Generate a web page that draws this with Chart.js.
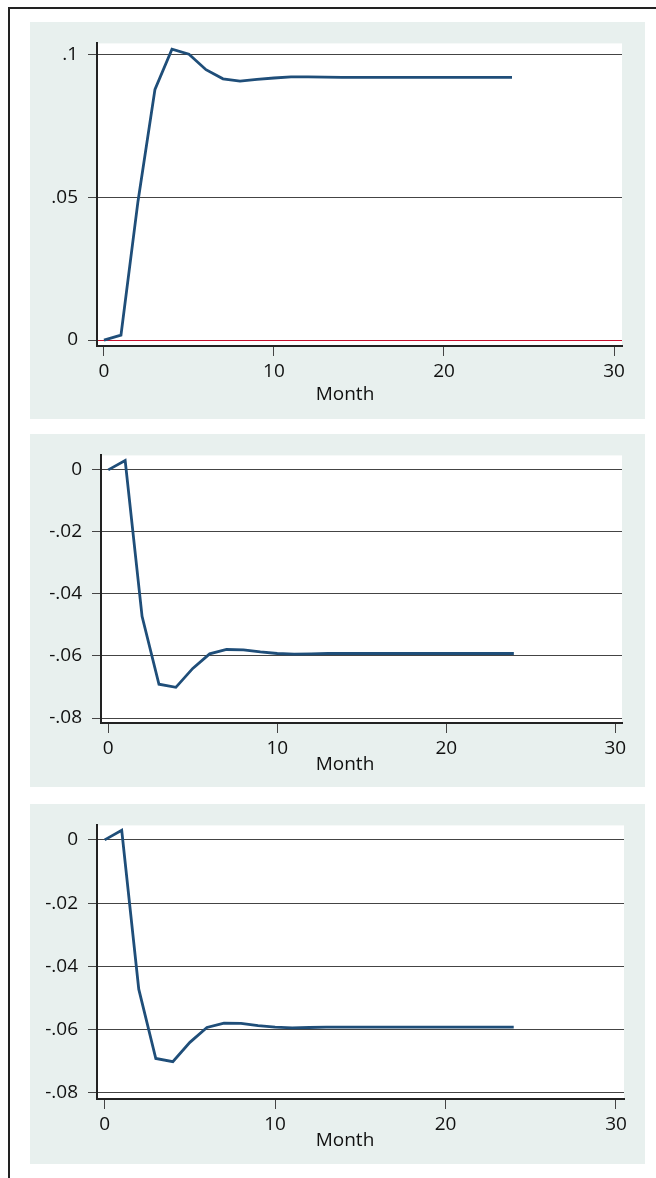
<!DOCTYPE html>
<html>
<head>
<meta charset="utf-8">
<script src="https://cdn.jsdelivr.net/npm/chart.js@4/dist/chart.umd.min.js"></script>
<style>
  html, body { margin: 0; padding: 0; background: #ffffff; }
  body { position: relative; width: 656px; height: 1178px; overflow: hidden; }
  #frame { position: absolute; left: 8px; top: 7px; width: 660px; height: 1180px;
           border-top: 2px solid #222; border-left: 2px solid #222; }
  .panel { position: absolute; left: 30px; width: 615px; background: #e8f0ee; }
  .panel canvas { position: absolute; left: 0; top: 0; }
</style>
</head>
<body>
<div id="frame"></div>
<div class="panel" style="top:22px;height:397px"><canvas id="c1" width="615" height="397"></canvas></div>
<div class="panel" style="top:434px;height:353px"><canvas id="c2" width="615" height="353"></canvas></div>
<div class="panel" style="top:804px;height:360px"><canvas id="c3" width="615" height="360"></canvas></div>
<script>
// Months after the shock
const months = [0, 1, 2, 3, 4, 5, 6, 7, 8, 9, 10, 11, 12, 13, 14, 15, 16, 17, 18, 19, 20, 21, 22, 23, 24];

// Impulse responses, one per panel
const response1 = [0, 0.0017, 0.0485, 0.0877, 0.1018, 0.1000, 0.0946, 0.0914, 0.0906, 0.0912, 0.0917, 0.0921, 0.0921, 0.0920, 0.0919, 0.0919, 0.0919, 0.0919, 0.0919, 0.0919, 0.0919, 0.0919, 0.0919, 0.0919, 0.0919];
const response2 = [0, 0.0030, -0.0472, -0.0691, -0.0701, -0.0640, -0.0593, -0.0579, -0.0580, -0.0587, -0.0592, -0.0594, -0.0593, -0.0592, -0.0592, -0.0592, -0.0592, -0.0592, -0.0592, -0.0592, -0.0592, -0.0592, -0.0592, -0.0592, -0.0592];
const response3 = [0, 0.0030, -0.0472, -0.0691, -0.0701, -0.0640, -0.0593, -0.0579, -0.0580, -0.0587, -0.0592, -0.0594, -0.0593, -0.0592, -0.0592, -0.0592, -0.0592, -0.0592, -0.0592, -0.0592, -0.0592, -0.0592, -0.0592, -0.0592, -0.0592];

// Tick values and their labels
const xTicks = [0, 10, 20, 30];
const xTickLabels = ['0', '10', '20', '30'];
const yTicks1 = [0, 0.05, 0.1];
const yTickLabels1 = ['0', '.05', '.1'];
const yTicks2 = [0, -0.02, -0.04, -0.06, -0.08];
const yTickLabels2 = ['0', '-.02', '-.04', '-.06', '-.08'];
const xTitle = 'Month';

const FAMILY = "'Open Sans', 'Noto Sans', sans-serif";
const FONT = { family: FAMILY, size: 19 };
const INK = '#111111';
const GRID = '#444444';
const LINE = '#1f4e79';

// White plot region behind the series
const plotBackground = {
  id: 'plotBackground',
  beforeDraw(chart) {
    const { ctx, chartArea: a } = chart;
    ctx.save();
    ctx.fillStyle = '#ffffff';
    ctx.fillRect(a.left, a.top, a.right - a.left, a.bottom - a.top);
    ctx.restore();
  }
};

// Axis title under the x axis, placed in canvas coordinates
const axisTitle = {
  id: 'axisTitle',
  afterDraw(chart, args, opts) {
    const ctx = chart.ctx;
    ctx.save();
    ctx.font = `${FONT.size}px ${FAMILY}`;
    ctx.fillStyle = INK;
    ctx.textAlign = 'center';
    ctx.textBaseline = 'middle';
    ctx.fillText(opts.text, opts.x, opts.y);
    ctx.restore();
  }
};

function makeChart(id, values, cfg) {
  const points = months.map((m, i) => ({ x: m, y: values[i] }));
  return new Chart(document.getElementById(id), {
    type: 'line',
    data: { datasets: [{ data: points, borderColor: LINE, borderWidth: 2.8,
                         pointRadius: 0, tension: 0, fill: false }] },
    options: {
      responsive: false,
      animation: false,
      devicePixelRatio: 1,
      layout: { padding: cfg.padding },
      plugins: {
        legend: { display: false },
        tooltip: { enabled: false },
        axisTitle: { text: xTitle, x: 315, y: cfg.titleY }
      },
      scales: {
        x: {
          type: 'linear', min: cfg.xMin, max: cfg.xMax,
          afterBuildTicks: s => { s.ticks = xTicks.map(v => ({ value: v })); },
          afterFit: s => { s.height = cfg.xHeight; },
          grid: { drawOnChartArea: false, drawTicks: true, tickLength: 10, color: GRID, lineWidth: 1 },
          border: { display: true, color: '#222222', width: 2 },
          ticks: { autoSkip: false, maxRotation: 0, padding: 4, color: INK, font: FONT,
                   callback: v => xTickLabels[xTicks.indexOf(v)] },
          title: { display: false }
        },
        y: {
          type: 'linear', min: cfg.yMin, max: cfg.yMax,
          afterBuildTicks: s => { s.ticks = cfg.yTicks.map(v => ({ value: v })); },
          afterFit: s => { s.width = cfg.yWidth; },
          grid: { drawOnChartArea: true, drawTicks: true, tickLength: 9, lineWidth: 1,
                  color: c => (cfg.redZero && c.tick && c.tick.value === 0) ? '#c8102e' : GRID,
                  tickColor: GRID },
          border: { display: true, color: '#222222', width: 2 },
          ticks: { autoSkip: false, padding: 10, color: INK, font: FONT,
                   callback: v => cfg.yLabels[cfg.yTicks.indexOf(v)] }
        }
      }
    },
    plugins: [plotBackground, axisTitle]
  });
}

makeChart('c1', response1, {
  padding: { top: 19, right: 23, left: 0, bottom: 0 },
  xMin: -0.41, xMax: 30.47, yMin: -0.00208, yMax: 0.1038,
  xHeight: 73, yWidth: 67, titleY: 373,
  yTicks: yTicks1, yLabels: yTickLabels1, redZero: true
});
makeChart('c2', response2, {
  padding: { top: 18, right: 23, left: 0, bottom: 0 },
  xMin: -0.43, xMax: 30.4, yMin: -0.0816, yMax: 0.00467,
  xHeight: 64, yWidth: 71, titleY: 331,
  yTicks: yTicks2, yLabels: yTickLabels2, redZero: false
});
makeChart('c3', response3, {
  padding: { top: 17, right: 21, left: 0, bottom: 0 },
  xMin: -0.45, xMax: 30.47, yMin: -0.0819, yMax: 0.00457,
  xHeight: 65, yWidth: 67, titleY: 337,
  yTicks: yTicks2, yLabels: yTickLabels2, redZero: false
});
</script>
</body>
</html>
